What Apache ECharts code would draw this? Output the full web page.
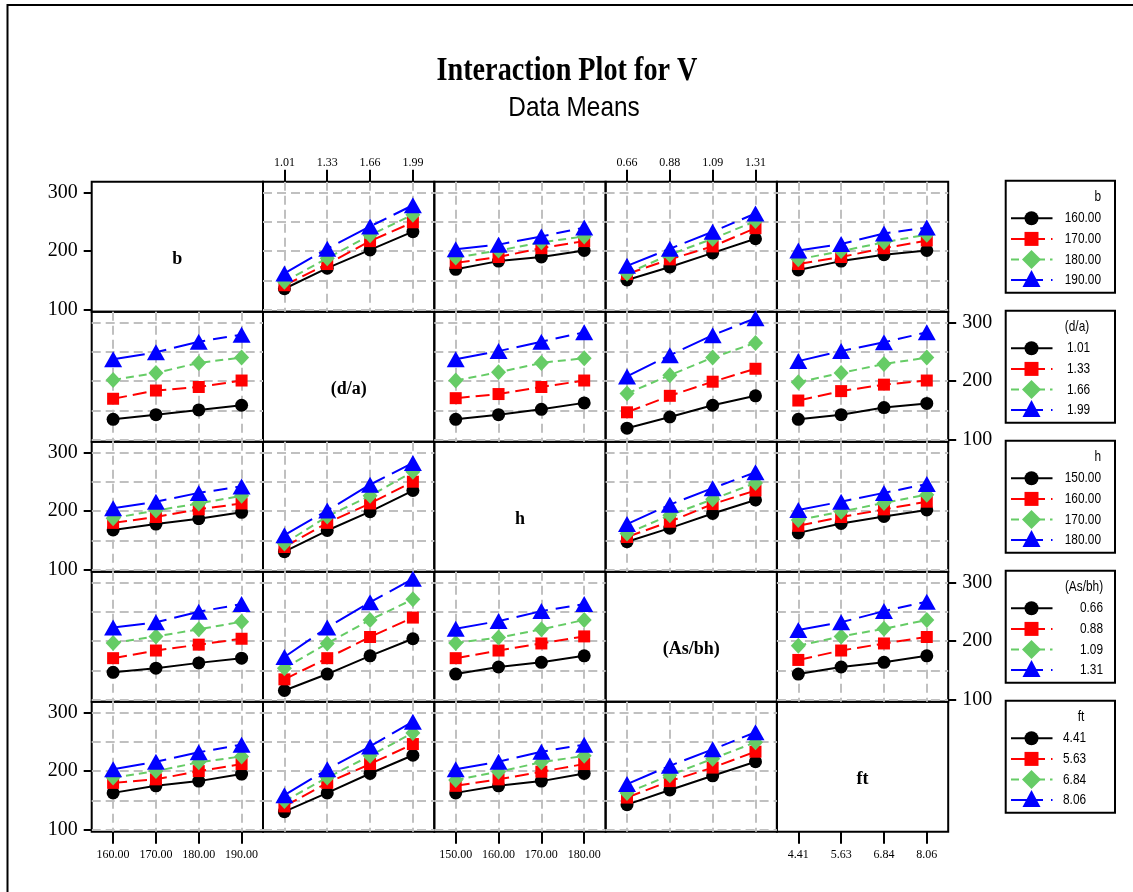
<!DOCTYPE html>
<html>
<head>
<meta charset="utf-8">
<script src="https://cdn.jsdelivr.net/npm/echarts@6/dist/echarts.min.js"></script>
<style>
  html, body { margin: 0; padding: 0; background: #fff; }
  #chart { width: 1133px; height: 892px; }
</style>
</head>
<body>
<div id="chart"></div>
<script>
// ---- Factors and their levels ----
const factorNames = ['b', '(d/a)', 'h', '(As/bh)', 'ft'];
const levels_b = ['160.00', '170.00', '180.00', '190.00'];
const levels_da = ['1.01', '1.33', '1.66', '1.99'];
const levels_h = ['150.00', '160.00', '170.00', '180.00'];
const levels_asbh = ['0.66', '0.88', '1.09', '1.31'];
const levels_ft = ['4.41', '5.63', '6.84', '8.06'];
const factorLevels = [levels_b, levels_da, levels_h, levels_asbh, levels_ft];

// ---- Axis ticks ----
const yTickLabels = [100, 200, 300];
const yGridValues = [100, 150, 200, 250, 300];
const xTickIndex = [0, 1, 2, 3];

// ---- Means of V: one row per level of the trace factor, one column per level of the x factor ----
// trace b
const b_by_da   = [[136, 171, 202, 233], [142, 178, 217, 249], [148, 188, 227, 262], [162, 204, 242, 278]];
const b_by_h    = [[169, 183, 190, 201], [180, 190, 205, 217], [189, 201, 215, 225], [203, 211, 225, 240]];
const b_by_asbh = [[151, 173, 197, 221], [161, 186, 208, 239], [162, 194, 221, 251], [175, 204, 233, 264]];
const b_by_ft   = [[168, 183, 194, 201], [178, 190, 205, 218], [186, 200, 215, 228], [201, 212, 230, 240]];
// trace d/a
const da_by_b    = [[135, 143, 151, 159], [170, 184, 190, 201], [202, 214, 231, 240], [237, 249, 267, 279]];
const da_by_h    = [[135, 143, 152, 163], [171, 178, 190, 201], [201, 215, 231, 239], [237, 251, 267, 283]];
const da_by_asbh = [[120, 139, 159, 175], [147, 175, 199, 221], [179, 210, 240, 265], [208, 244, 278, 307]];
const da_by_ft   = [[135, 143, 155, 162], [167, 183, 194, 201], [198, 214, 229, 240], [234, 251, 266, 283]];
// trace h
const h_by_b    = [[168, 178, 187, 198], [180, 190, 203, 213], [188, 201, 213, 226], [205, 216, 231, 242]];
const h_by_da   = [[131, 167, 199, 235], [139, 180, 213, 250], [145, 191, 226, 267], [159, 201, 245, 282]];
const h_by_asbh = [[148, 171, 196, 219], [156, 182, 212, 235], [162, 193, 220, 248], [178, 211, 239, 266]];
const h_by_ft   = [[163, 179, 191, 202], [175, 190, 203, 216], [185, 199, 214, 228], [202, 216, 231, 246]];
// trace As/bh
const asbh_by_b  = [[147, 154, 163, 171], [171, 184, 194, 204], [197, 208, 220, 233], [223, 232, 250, 263]];
const asbh_by_da = [[116, 144, 175, 204], [135, 171, 207, 240], [154, 196, 236, 271], [173, 223, 266, 306]];
const asbh_by_h  = [[144, 156, 164, 175], [171, 184, 196, 208], [197, 206, 220, 236], [221, 234, 251, 263]];
const asbh_by_ft = [[144, 156, 164, 175], [168, 184, 196, 207], [192, 208, 221, 236], [219, 232, 251, 267]];
// trace ft
const ft_by_b    = [[163, 175, 183, 195], [180, 186, 200, 212], [189, 200, 215, 225], [203, 216, 232, 245]];
const ft_by_da   = [[131, 163, 196, 227], [140, 180, 212, 246], [149, 189, 226, 265], [159, 203, 242, 284]];
const ft_by_h    = [[163, 175, 183, 196], [175, 186, 199, 212], [185, 199, 215, 226], [203, 216, 233, 245]];
const ft_by_asbh = [[143, 168, 192, 216], [155, 183, 206, 233], [163, 193, 221, 249], [178, 209, 237, 266]];

// matrix of panels: [row = trace factor][col = x factor]
const panelMeans = [
  [null, b_by_da, b_by_h, b_by_asbh, b_by_ft],
  [da_by_b, null, da_by_h, da_by_asbh, da_by_ft],
  [h_by_b, h_by_da, null, h_by_asbh, h_by_ft],
  [asbh_by_b, asbh_by_da, asbh_by_h, null, asbh_by_ft],
  [ft_by_b, ft_by_da, ft_by_h, ft_by_asbh, null]
];

// ---- Layout and styles ----
const N = 5;
const GRID_LEFT = 91.7, GRID_TOP = 181.7, CELL_W = 171.3, CELL_H = 130;
const Y_MIN = 97, Y_MAX = 318;
const SERIF = '"Liberation Serif", "Times New Roman", serif';
const SANS = '"Liberation Sans", Arial, sans-serif';
const GRID_COLOR = '#C0C0C0';

const levelStyles = [
  { color: '#000000', symbol: 'circle',   size: 13,       dash: 'solid' },
  { color: '#FF0000', symbol: 'rect',     size: 12,       dash: [14, 6] },
  { color: '#66CC66', symbol: 'diamond',  size: [15, 16], dash: [8, 5] },
  { color: '#0000FF', symbol: 'triangle', size: [18, 16], dash: [32, 8, 14, 8] }
];

// which outer axes carry labels
const topLabelCols = [1, 3];
const bottomLabelCols = [0, 2, 4];
const leftLabelRows = [0, 2, 4];
const rightLabelRows = [1, 3];

const grids = [], xAxes = [], yAxes = [], series = [];

for (let i = 0; i < N; i++) {
  for (let j = 0; j < N; j++) {
    const g = grids.length;
    const diag = i === j;
    grids.push({
      left: GRID_LEFT + j * CELL_W, top: GRID_TOP + i * CELL_H,
      width: CELL_W, height: CELL_H,
      show: true, borderColor: '#000', borderWidth: 2, backgroundColor: 'transparent',
      containLabel: false
    });

    const showTop = i === 0 && topLabelCols.includes(j);
    const showBottom = i === N - 1 && bottomLabelCols.includes(j);
    const showX = showTop || showBottom;
    const lv = factorLevels[j];
    xAxes.push({
      gridIndex: g, type: 'value', min: -0.5, max: 3.5,
      position: showTop ? 'top' : 'bottom',
      axisLine: { show: false, onZero: false },
      axisTick: { show: showX, customValues: xTickIndex, length: 12, lineStyle: { color: '#000', width: 2 } },
      axisLabel: {
        show: showX, customValues: xTickIndex,
        formatter: (v) => lv[Math.round(v)] || '',
        fontFamily: SERIF, fontSize: 12, color: '#000', margin: showTop ? 13 : 17
      },
      splitLine: { show: !diag, lineStyle: { color: GRID_COLOR, width: 2, type: [9, 5] } }
    });

    const showLeft = j === 0 && leftLabelRows.includes(i);
    const showRight = j === N - 1 && rightLabelRows.includes(i);
    const labelSide = showRight ? 'right' : 'left';
    // labelled axis (ticks at 100/200/300)
    yAxes.push({
      gridIndex: g, type: 'value', min: Y_MIN, max: Y_MAX,
      position: labelSide, show: showLeft || showRight,
      axisLine: { show: false, onZero: false },
      axisTick: { show: true, customValues: yTickLabels, length: 8, lineStyle: { color: '#000', width: 2 } },
      axisLabel: { customValues: yTickLabels, fontFamily: SERIF, fontSize: 20, color: '#000', margin: 14 },
      splitLine: { show: false }
    });
    // gridline axis (every 50)
    const gridYIndex = yAxes.length;
    yAxes.push({
      gridIndex: g, type: 'value', min: Y_MIN, max: Y_MAX,
      position: labelSide === 'left' ? 'right' : 'left',
      axisLine: { show: false, onZero: false },
      axisTick: { show: false, customValues: yGridValues },
      axisLabel: { show: false },
      splitLine: { show: !diag, lineStyle: { color: GRID_COLOR, width: 2, type: [9, 5] } }
    });

    if (!diag) {
      const means = panelMeans[i][j];
      means.forEach((row, k) => {
        const st = levelStyles[k];
        series.push({
          type: 'line',
          name: factorNames[i] + ' = ' + factorLevels[i][k],
          xAxisIndex: g, yAxisIndex: gridYIndex,
          data: row.map((v, x) => [x, v]),
          symbol: st.symbol, symbolSize: st.size, showSymbol: true,
          itemStyle: { color: st.color, opacity: 1 },
          lineStyle: { color: st.color, width: 2, type: st.dash },
          emphasis: { disabled: true },
          z: 2 + k
        });
      });
    }
  }
}

// ---- Graphic: frame, titles, diagonal labels, per-row legends ----
const graphics = [];
graphics.push({
  type: 'rect', silent: true, z: 0,
  shape: { x: 7.5, y: 5, width: 1300, height: 1000 },
  style: { fill: 'none', stroke: '#000', lineWidth: 2 }
});
graphics.push({
  type: 'text', x: 567, y: 71, scaleX: 0.83, z: 10,
  style: { text: 'Interaction Plot for V', font: 'bold 34px ' + SERIF, fill: '#000', align: 'center', verticalAlign: 'middle' }
});
graphics.push({
  type: 'text', x: 574, y: 108, scaleX: 0.87, z: 10,
  style: { text: 'Data Means', font: '28px ' + SANS, fill: '#000', align: 'center', verticalAlign: 'middle' }
});

for (let i = 0; i < N; i++) {
  graphics.push({
    type: 'text', z: 10,
    x: GRID_LEFT + (i + 0.5) * CELL_W, y: GRID_TOP + (i + 0.5) * CELL_H + 13,
    style: { text: factorNames[i], font: 'bold 18px ' + SERIF, fill: '#000', align: 'center', verticalAlign: 'middle' }
  });
}

// legend boxes
const LEG_X = 1005.7, LEG_W = 109.3, LEG_H = 112;
const legendTitleAlign = [
  { x: 1101, align: 'right' }, { x: 1077, align: 'center' }, { x: 1101, align: 'right' },
  { x: 1084, align: 'center' }, { x: 1081, align: 'center' }
];
const legendLabelAlign = [
  { x: 1101, align: 'right' }, { x: 1067, align: 'left' }, { x: 1101, align: 'right' },
  { x: 1103, align: 'right' }, { x: 1063, align: 'left' }
];
function legendMarker(k, cx, cy) {
  const c = levelStyles[k].color;
  if (k === 0) return { type: 'circle', shape: { cx, cy, r: 7 }, style: { fill: c }, z: 12 };
  if (k === 1) return { type: 'rect', shape: { x: cx - 7, y: cy - 7, width: 14, height: 14 }, style: { fill: c }, z: 12 };
  if (k === 2) return { type: 'polygon', shape: { points: [[cx, cy - 9.5], [cx + 9.5, cy], [cx, cy + 9.5], [cx - 9.5, cy]] }, style: { fill: c }, z: 12 };
  return { type: 'polygon', shape: { points: [[cx, cy - 10], [cx + 9, cy + 7], [cx - 9, cy + 7]] }, style: { fill: c }, z: 12 };
}
for (let i = 0; i < N; i++) {
  const top = GRID_TOP + i * CELL_H - 1;
  graphics.push({
    type: 'rect', z: 10, silent: true,
    shape: { x: LEG_X, y: top, width: LEG_W, height: LEG_H },
    style: { fill: '#fff', stroke: '#000', lineWidth: 2 }
  });
  graphics.push({
    type: 'text', z: 11, x: legendTitleAlign[i].x, y: top + 16.5, scaleX: 0.79,
    style: { text: factorNames[i], font: '15px ' + SANS, fill: '#000', align: legendTitleAlign[i].align, verticalAlign: 'middle' }
  });
  for (let k = 0; k < 4; k++) {
    const yy = top + 37.6 + k * 20.6;
    const st = levelStyles[k];
    graphics.push({
      type: 'line', z: 11,
      shape: { x1: 1011, y1: yy, x2: 1052.5, y2: yy },
      style: { stroke: st.color, lineWidth: 2, lineDash: st.dash === 'solid' ? null : st.dash }
    });
    graphics.push(legendMarker(k, 1031.5, yy));
    graphics.push({
      type: 'text', z: 11, x: legendLabelAlign[i].x, y: yy, scaleX: 0.79,
      style: { text: factorLevels[i][k], font: '15px ' + SANS, fill: '#000', align: legendLabelAlign[i].align, verticalAlign: 'middle' }
    });
  }
}

const chart = echarts.init(document.getElementById('chart'), null, { renderer: 'canvas' });
chart.setOption({
  backgroundColor: '#fff',
  animation: false,
  grid: grids,
  xAxis: xAxes,
  yAxis: yAxes,
  series: series,
  graphic: graphics
});
</script>
</body>
</html>
